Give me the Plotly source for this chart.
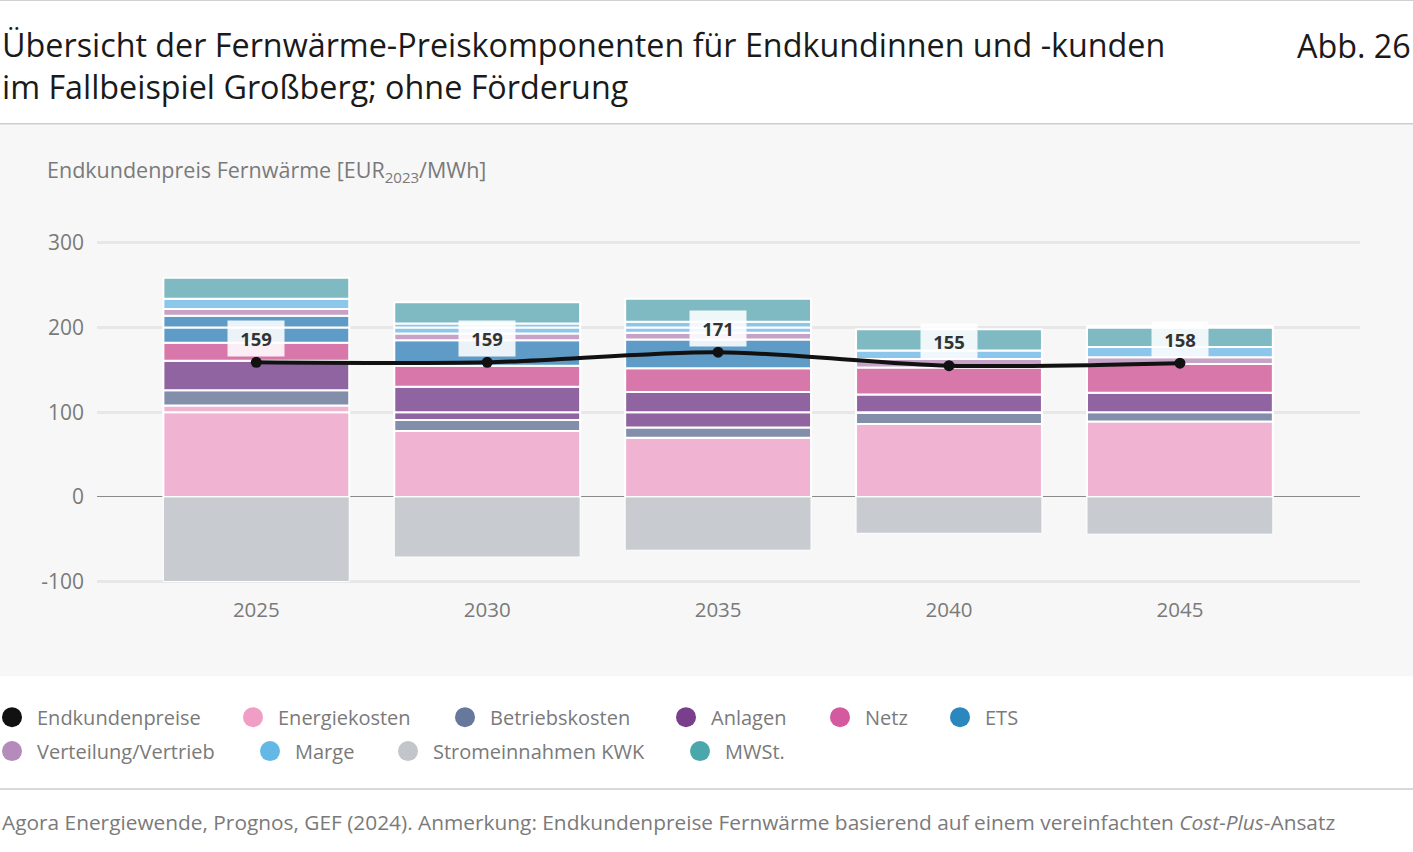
import plotly.graph_objects as go

# data (EUR2023/MWh)
years = ["2025", "2030", "2035", "2040", "2045"]
energiekosten = [108, 78, 70, 86, 89]
betriebskosten = [18, 13, 12, 13, 11]
anlagen = [35, 39, 42, 22, 23]
netz = [21, 25, 28, 32, 34]
ets = [32, 30, 34, 0, 0]
verteilung = [8, 8, 8, 10, 8]
marge = [12, 12, 13, 10, 12]
mwst = [25, 25, 27, 25, 25]
stromeinnahmen = [-100, -71, -63, -43, -44]
endkundenpreise = [159, 159, 171, 155, 158]

# name, values, bar colour, legend colour
series = [
    ("Energiekosten", energiekosten, "#f1b3d2", "#f19ec6"),
    ("Betriebskosten", betriebskosten, "#838eab", "#66789c"),
    ("Anlagen", anlagen, "#8f64a0", "#7a3f8c"),
    ("Netz", netz, "#d878aa", "#d45aa0"),
    ("ETS", ets, "#5e9bc7", "#2a88bf"),
    ("Verteilung/Vertrieb", verteilung, "#c5a2c6", "#b48bbb"),
    ("Marge", marge, "#8cc6ea", "#63b8e6"),
    ("MWSt.", mwst, "#7fb9c2", "#4aa8ac"),
]
strom_bar, strom_leg = "#c8ccd1", "#c2c5ca"
line_col = "#111111"

grid_cuts = [0, 100, 200, 300, 400]

W, H = 1413, 852
H_EFF = 848  # the page ends up drawn a few pixels shorter than the layout height
FONT = "Open Sans"
GREY = "#7a7a7a"

fig = go.Figure()

# stacked positive components, split where a grid line crosses them
bottom = [0] * len(years)
for name, vals, col, _ in series:
    top = [b + v for b, v in zip(bottom, vals)]
    for lo, hi in zip(grid_cuts[:-1], grid_cuts[1:]):
        base, height = [], []
        for b, t in zip(bottom, top):
            s, e = max(b, lo), min(t, hi)
            if e > s:
                base.append(s)
                height.append(e - s)
            else:
                base.append(None)
                height.append(None)
        if any(h is not None for h in height):
            fig.add_trace(go.Bar(
                x=years, y=height, base=base, name=name,
                marker=dict(color=col, line=dict(color="white", width=2)),
                hoverinfo="skip",
            ))
    bottom = top

# negative electricity revenue
fig.add_trace(go.Bar(
    x=years, y=stromeinnahmen, base=[0] * len(years), name="Stromeinnahmen KWK",
    marker=dict(color=strom_bar, line=dict(color="white", width=1)),
    hoverinfo="skip",
))

# end customer price line
fig.add_trace(go.Scatter(
    x=years, y=endkundenpreise, mode="lines+markers", name="Endkundenpreise",
    line=dict(color=line_col, width=4, shape="spline", smoothing=0.8),
    marker=dict(size=11, color=line_col),
))

for i, v in enumerate(endkundenpreise):
    fig.add_annotation(
        x=i, y=v, yshift=24, text=f"<b>{v}</b>", showarrow=False,
        font=dict(family=FONT, size=18.5, color="#333333"),
        bgcolor="rgba(255,255,255,0.88)", borderpad=5,
        width=46,
    )

px_per_unit = 0.8475
zero_px = 497.5
y_range = [-110, 330]
y_top_px = zero_px - y_range[1] * px_per_unit
y_bot_px = zero_px - y_range[0] * px_per_unit


def py(pixel_y):
    return 1 - pixel_y / H_EFF


fig.update_layout(
    width=W, height=H,
    margin=dict(l=0, r=0, t=0, b=0),
    paper_bgcolor="white",
    plot_bgcolor="rgba(0,0,0,0)",
    barmode="overlay",
    bargap=0.195,
    showlegend=False,
    font=dict(family=FONT, color=GREY),
    xaxis=dict(
        type="category",
        domain=[97 / W, 1360 / W],
        range=[-0.69, 4.78],
        showgrid=False, zeroline=False, showline=False,
        ticks="", tickfont=dict(size=20.5, color=GREY),
        ticklabelstandoff=5,
        fixedrange=True,
    ),
    yaxis=dict(
        domain=[py(y_bot_px), py(y_top_px)],
        range=y_range,
        tickvals=[-100, 0, 100, 200, 300],
        ticktext=["-100", "0", "100", "200", "300"],
        gridcolor="#e7e7e7", gridwidth=2.5,
        zeroline=True, zerolinecolor="#8a8a8a", zerolinewidth=1.2,
        showline=False, ticks="",
        tickfont=dict(size=21, color=GREY),
        ticklabelstandoff=12,
        fixedrange=True,
    ),
)

shapes = [
    dict(type="rect", xref="paper", yref="paper", x0=0, x1=1,
         y0=py(677), y1=py(125), fillcolor="#f7f7f7",
         line=dict(width=0), layer="below"),
    dict(type="line", xref="paper", yref="paper", x0=0, x1=1,
         y0=py(124), y1=py(124), line=dict(color="#cccccc", width=1.5)),
    dict(type="line", xref="paper", yref="paper", x0=0, x1=1,
         y0=py(0.5), y1=py(0.5), line=dict(color="#d0d0d0", width=1)),
    dict(type="line", xref="paper", yref="paper", x0=0, x1=1,
         y0=py(790), y1=py(790), line=dict(color="#cccccc", width=1.5)),
]

# legend with round symbols: (label, colour, circle centre x, row y)
legend_items = [
    ("Endkundenpreise", line_col, 12, 718),
    ("Energiekosten", series[0][3], 253, 718),
    ("Betriebskosten", series[1][3], 465, 718),
    ("Anlagen", series[2][3], 686, 718),
    ("Netz", series[3][3], 840, 718),
    ("ETS", series[4][3], 960, 718),
    ("Verteilung/Vertrieb", series[5][3], 12, 752),
    ("Marge", series[6][3], 270, 752),
    ("Stromeinnahmen KWK", strom_leg, 408, 752),
    ("MWSt.", series[7][3], 700, 752),
]
for label, col, cx, cy in legend_items:
    shapes.append(dict(
        type="circle", xref="paper", yref="paper",
        xsizemode="pixel", ysizemode="pixel",
        xanchor=cx / W, yanchor=py(cy),
        x0=-10, x1=10, y0=-10, y1=10,
        fillcolor=col, line=dict(width=0),
    ))
    fig.add_annotation(
        xref="paper", yref="paper", x=(cx + 23) / W, y=py(cy),
        xanchor="left", yanchor="middle", showarrow=False, text=label,
        font=dict(family=FONT, size=20, color=GREY),
    )

fig.update_layout(shapes=shapes)

# titles and notes
title_font = dict(family=FONT, size=32.3, color="#1a1a1a")
fig.add_annotation(
    xref="paper", yref="paper", x=0, y=py(65), xanchor="left", yanchor="middle",
    align="left", showarrow=False,
    text="Übersicht der Fernwärme-Preiskomponenten für Endkundinnen und -kunden<br>"
         "im Fallbeispiel Großberg; ohne Förderung",
    font=title_font,
)
fig.add_annotation(
    xref="paper", yref="paper", x=1, y=py(45), xanchor="right", yanchor="middle",
    showarrow=False, text="Abb. 26", font=title_font,
)
fig.add_annotation(
    xref="paper", yref="paper", x=45 / W, y=py(171), xanchor="left", yanchor="middle",
    showarrow=False, text="Endkundenpreis Fernwärme [EUR<sub>2023</sub>/MWh]",
    font=dict(family=FONT, size=21.5, color=GREY),
)
fig.add_annotation(
    xref="paper", yref="paper", x=0, y=py(823), xanchor="left", yanchor="middle",
    showarrow=False,
    text="Agora Energiewende, Prognos, GEF (2024). Anmerkung: Endkundenpreise Fernwärme "
         "basierend auf einem vereinfachten <i>Cost-Plus</i>-Ansatz",
    font=dict(family=FONT, size=20.85, color=GREY),
)

fig.write_html(
    "out.html",
    config={"displayModeBar": False},
    post_script="document.body.style.margin='0';document.body.style.overflow='hidden';",
)
